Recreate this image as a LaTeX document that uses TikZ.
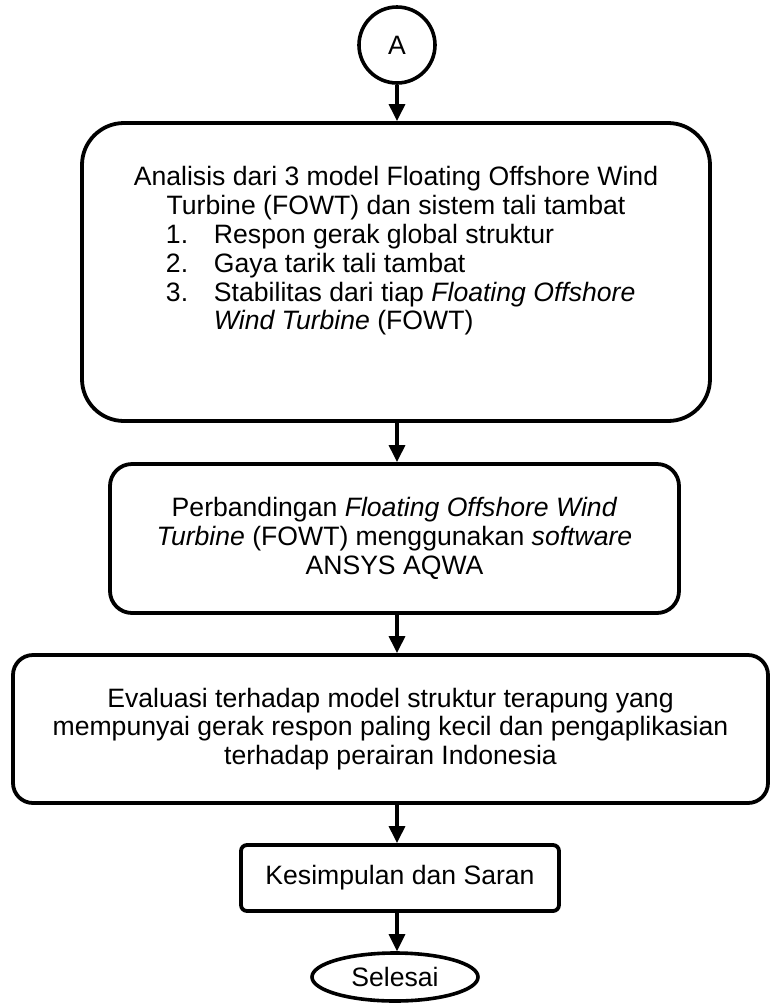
\documentclass[tikz,border=0pt]{standalone}
\usepackage{fontspec}
\setmainfont{Liberation Sans}
\usetikzlibrary{arrows.meta, shapes.geometric}

\begin{document}
\begin{tikzpicture}[x=0.5pt, y=-0.5pt,
  every node/.style={font=\fontsize{13.3pt}{14.4pt}\selectfont},
  flowbox/.style={draw, line width=1.9pt, rounded corners=#1, align=center, inner sep=0pt},
  flowbox/.default=10pt,
  flowarrow/.style={line width=1.6pt, -{Triangle[length=8.5pt, width=8pt]}}]
  \useasboundingbox (0,0) rectangle (771,1003);
  % start connector and the steps
  \node[draw, circle, line width=1.8pt, minimum size=38pt, inner sep=0pt] (mulai) at (397,45) {A};
  \node[flowbox=21pt, minimum width=314pt, minimum height=149pt] (analisis) at (396,272) {%
    \parbox[c][149pt][t]{270pt}{\vspace*{21.8pt}\centering
      Analisis dari 3 model Floating Offshore Wind\\
      Turbine (FOWT) dan sistem tali tambat\par
      \makebox[\linewidth][l]{\hspace{20pt}\begin{tabular}[t]{@{}p{24pt}@{}l@{}}
        1. & Respon gerak global struktur\\
        2. & Gaya tarik tali tambat\\
        3. & Stabilitas dari tiap \textit{Floating Offshore}\\
           & \textit{Wind Turbine} (FOWT)
      \end{tabular}}}};
  \node[flowbox=11pt, minimum width=284.5pt, minimum height=74.5pt] (banding) at (394.5,538.5)
    {Perbandingan \textit{Floating Offshore Wind}\\ \textit{Turbine} (FOWT) menggunakan \textit{software}\\ ANSYS AQWA};
  \node[flowbox=10pt, minimum width=377.5pt, minimum height=74pt] (evaluasi) at (390.5,729)
    {Evaluasi terhadap model struktur terapung yang\\ mempunyai gerak respon paling kecil dan pengaplikasian\\ terhadap perairan Indonesia};
  \node[flowbox=3pt, minimum width=159pt, minimum height=33pt] (simpul) at (400,878) {Kesimpulan dan Saran};
  \node[draw, ellipse, line width=1.8pt, minimum width=83pt, minimum height=24pt, inner sep=0pt] (selesai) at (395,977) {Selesai};
  % arrows
  \draw[flowarrow] (mulai.south) -- (analisis.north -| mulai.south);
  \draw[flowarrow] (analisis.south -| mulai.south) -- (banding.north -| mulai.south);
  \draw[flowarrow] (banding.south -| mulai.south) -- (evaluasi.north -| mulai.south);
  \draw[flowarrow] (evaluasi.south -| mulai.south) -- (simpul.north -| mulai.south);
  \draw[flowarrow] (simpul.south -| mulai.south) -- (selesai.north -| mulai.south);
\end{tikzpicture}
\end{document}
